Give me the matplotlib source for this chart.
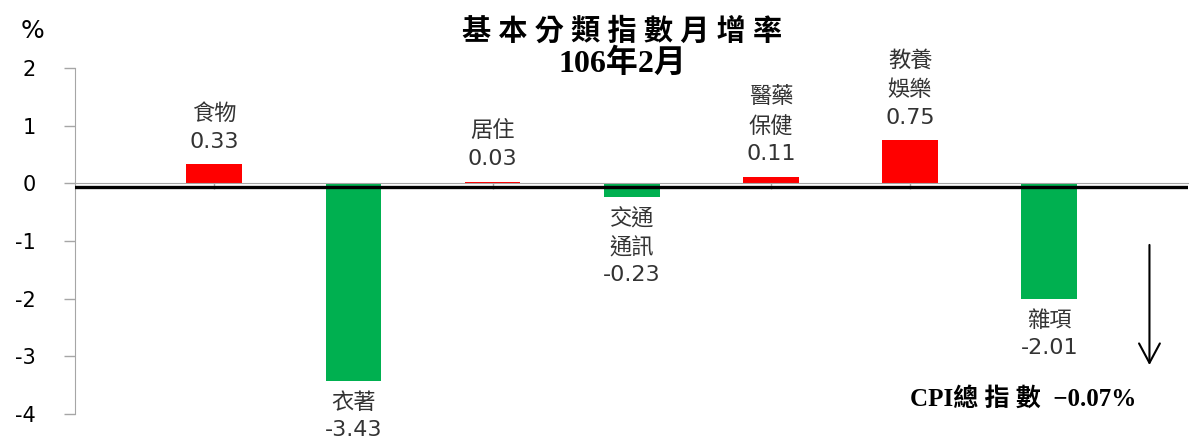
import matplotlib.pyplot as plt
import numpy as np

plt.rcParams["font.family"] = ["DejaVu Sans", "Noto Sans CJK TC"]

categories = ["食物", "衣著", "居住", "交通\n通訊", "醫藥\n保健", "教養\n娛樂", "雜項"]
values = [0.33, -3.43, 0.03, -0.23, 0.11, 0.75, -2.01]
cpi_total = -0.07
y_ticks = [2, 1, 0, -1, -2, -3, -4]

RED = "#FF0000"
GREEN = "#00B050"
GRAY = "#A6A6A6"
LABEL = "#333333"
SERIF = ["Liberation Serif", "Noto Sans CJK TC"]


def main():
    fig = plt.figure(figsize=(11.92, 4.44), dpi=100)
    ax = fig.add_axes([0.063, 0.0676, 0.934, 0.7792])

    x = np.arange(len(values))
    colors = [RED if v >= 0 else GREEN for v in values]
    ax.bar(x, values, width=0.4, color=colors, zorder=2)

    # CPI overall level line
    ax.axhline(cpi_total, color="black", lw=2.4, zorder=3)

    for xi, v, name in zip(x, values, categories):
        txt = f"{name}\n{v:.2f}"
        if v >= 0:
            ax.annotate(txt, (xi, v), xytext=(0, 9), textcoords="offset points",
                        ha="center", va="bottom", fontsize=16, color=LABEL,
                        linespacing=1.5)
        else:
            ax.annotate(txt, (xi, v), xytext=(0, -8), textcoords="offset points",
                        ha="center", va="top", fontsize=16, color=LABEL,
                        linespacing=1.45)

    ax.set_xlim(-1, 7)
    ax.set_ylim(-4, 2)
    ax.set_yticks(y_ticks)
    ax.set_yticklabels([str(t) for t in y_ticks], fontsize=15)
    ax.set_xticks(x)
    ax.set_xticklabels([])

    for side in ["top", "right"]:
        ax.spines[side].set_visible(False)
    ax.spines["left"].set_color(GRAY)
    ax.spines["bottom"].set_position(("data", 0))
    ax.spines["bottom"].set_color(GRAY)
    ax.tick_params(axis="y", colors=GRAY, labelcolor="black", length=8, width=1, pad=20)
    ax.tick_params(axis="x", colors=GRAY, length=4, width=1)

    # downward arrow and CPI text
    ax.annotate("", xy=(6.72, -3.2), xytext=(6.72, -1.02),
                arrowprops=dict(arrowstyle="->,head_length=1.4,head_width=0.75",
                                color="black", lw=1.5))
    ax.text(5.81, -3.73, "CPI總 指 數  −0.07%", ha="center", va="center",
            fontsize=18, fontweight="bold", family=SERIF)

    fig.text(0.522, 0.93, "基 本 分 類 指 數 月 增 率", ha="center", va="center",
             fontsize=21, fontweight="bold", family=SERIF)
    fig.text(0.522, 0.856, "106年2月", ha="center", va="center",
             fontsize=23, fontweight="bold", family=SERIF)
    fig.text(0.027, 0.93, "%", ha="center", va="center", fontsize=18)

    fig.savefig("out.png", dpi=100)


if __name__ == "__main__":
    main()
